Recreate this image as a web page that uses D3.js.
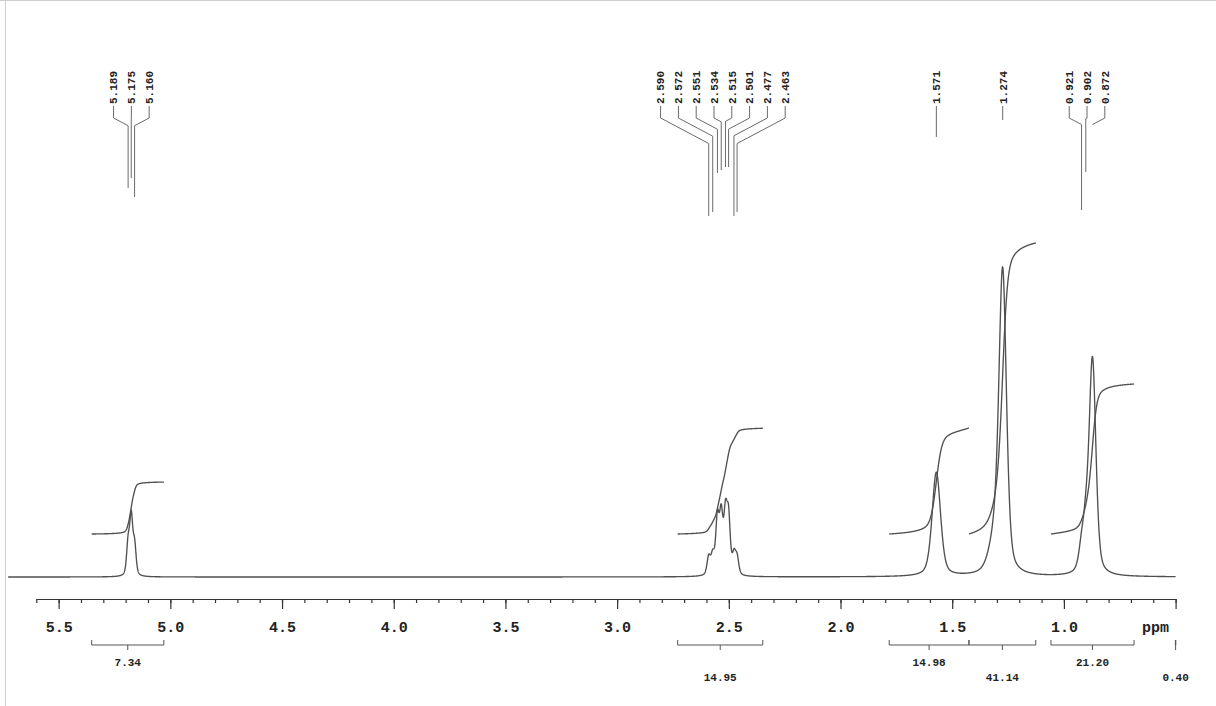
<!DOCTYPE html>
<html>
<head>
<meta charset="utf-8">
<script src="https://cdn.jsdelivr.net/npm/d3@7"></script>
<style>
  html, body { margin: 0; padding: 0; background: #fff; }
  svg { display: block; }
  text { font-family: "Liberation Mono", "DejaVu Sans Mono", monospace; font-weight: bold; fill: #222; }
</style>
</head>
<body>
<svg id="chart" width="1216" height="706"></svg>
<script>
// ---- 1H NMR spectrum data -------------------------------------------------

// Resolved lines: chemical shift (ppm), height (a.u.), line width (ppm)
const peakShifts  = [5.189, 5.175, 5.160,
                     2.590, 2.572, 2.551, 2.534, 2.515, 2.501, 2.477, 2.463,
                     1.571, 1.274, 0.921, 0.902, 0.872];
const peakHeights = [32, 57, 30,
                     18, 19, 55, 57, 57, 54, 19, 17,
                     104, 298, 22, 35, 215];
const peakWidths  = [0.016, 0.016, 0.016,
                     0.018, 0.018, 0.018, 0.018, 0.018, 0.018, 0.018, 0.018,
                     0.045, 0.040, 0.030, 0.030, 0.036];

// Unlabelled broad component under the 1.27 ppm band
const shoulderShifts  = [1.31];
const shoulderHeights = [30];
const shoulderWidths  = [0.06];

// Integral regions (ppm, high to low) and their printed values
const integralFrom   = [5.352, 2.729, 1.782, 1.425, 1.058, 0.501];
const integralTo     = [5.029, 2.348, 1.425, 1.126, 0.686, 0.499];
const integralValues = [7.34, 14.95, 14.98, 41.14, 21.20, 0.40];

// Axis ticks
const majorTicks = [5.5, 5.0, 4.5, 4.0, 3.5, 3.0, 2.5, 2.0, 1.5, 1.0, 0.5];
const tickLabels = ["5.5", "5.0", "4.5", "4.0", "3.5", "3.0", "2.5", "2.0", "1.5", "1.0", ""];
const axisUnit   = "ppm";

// ---- layout ----------------------------------------------------------------
const W = 1216, H = 706;
const baseY = 577;          // spectrum baseline
const axisY = 599;          // ppm axis line
const integralBaseY = 534;  // integral traces start here
const spectrumStart = 5.726, spectrumEnd = 0.5;
// where each leader line stops (one per labelled line)
const leaderEnds = [188, 178, 197,
                    216, 212, 173, 170, 167, 167, 216, 212,
                    137, 120, 210, 172, 124];

const svg = d3.select("#chart");

// faint frame of the page
svg.append("line").attr("x1", 0).attr("x2", W).attr("y1", 0.5).attr("y2", 0.5)
  .attr("stroke", "#cfcfcf").attr("stroke-width", 1);
svg.append("line").attr("x1", 5.5).attr("x2", 5.5).attr("y1", 0).attr("y2", H)
  .attr("stroke", "#cfcfcf").attr("stroke-width", 1);

const x = d3.scaleLinear().domain([5.6, 0.5]).range([36.3, 1175.6]);
const y = d3.scaleLinear().domain([0, 320]).range([baseY, baseY - 320]);
const yInt = d3.scaleLinear().domain([0, 40]).range([integralBaseY, integralBaseY - 283]);

// pseudo-Voigt line shape
const eta = 0.42;
function shape(d, w) {
  const r = d / w;
  return eta / (1 + 4 * r * r) + (1 - eta) * Math.exp(-4 * Math.LN2 * r * r);
}
function intensity(ppm) {
  let s = 0;
  for (let i = 0; i < peakShifts.length; i++)
    s += peakHeights[i] * shape(ppm - peakShifts[i], peakWidths[i]);
  for (let i = 0; i < shoulderShifts.length; i++)
    s += shoulderHeights[i] * shape(ppm - shoulderShifts[i], shoulderWidths[i]);
  return s;
}

const step = 0.0004;
const ppmGrid = d3.range(spectrumStart, spectrumEnd - step / 2, -step);
const spectrum = ppmGrid.map(p => [p, intensity(p)]);

const line = d3.line().x(d => x(d[0])).y(d => y(d[1]));
const traceColor = "#505050", traceWidth = 1.35;

svg.append("path")
  .datum(spectrum)
  .attr("d", line)
  .attr("fill", "none")
  .attr("stroke", traceColor)
  .attr("stroke-width", traceWidth)
  .attr("stroke-linejoin", "round");

// ---- integral traces ------------------------------------------------------
integralValues.forEach((val, i) => {
  const a = integralFrom[i], b = integralTo[i];
  if (a - b < 0.05) return;
  const pts = d3.range(a, b - step / 2, -step);
  let acc = 0;
  const cum = pts.map(p => { acc += intensity(p); return acc; });
  const total = cum[cum.length - 1];
  const trace = pts.map((p, j) => [x(p), yInt(val * cum[j] / total)]);
  svg.append("path")
    .datum(trace)
    .attr("d", d3.line())
    .attr("fill", "none")
    .attr("stroke", traceColor)
    .attr("stroke-width", traceWidth);
});

// ---- ppm axis -------------------------------------------------------------
const minorTicks = d3.range(56, 4, -1).map(v => v / 10);
const minorAxis = d3.axisBottom(x).tickValues(minorTicks).tickSize(4).tickSizeOuter(0).tickFormat("");
const majorAxis = d3.axisBottom(x).tickValues(majorTicks).tickSize(10).tickSizeOuter(0)
  .tickPadding(12).tickFormat((d, i) => tickLabels[i]);

const gMinor = svg.append("g").attr("transform", `translate(0,${axisY})`).call(minorAxis);
const gMajor = svg.append("g").attr("transform", `translate(0,${axisY})`).call(majorAxis);
[gMinor, gMajor].forEach(g => {
  g.selectAll("path.domain").attr("stroke", "#333").attr("stroke-width", 1.2);
  g.selectAll(".tick line").attr("stroke", "#333").attr("stroke-width", 1.2);
});
gMajor.selectAll(".tick text")
  .attr("font-family", "Liberation Mono, DejaVu Sans Mono, monospace")
  .attr("font-weight", "bold")
  .attr("font-size", 15)
  .attr("fill", "#222");

svg.append("text")
  .attr("x", x(0.59)).attr("y", axisY + 33)
  .attr("text-anchor", "middle")
  .attr("font-size", 15)
  .text(axisUnit);

// ---- integral brackets ------------------------------------------------------
const brY = 645;
const gInt = svg.append("g").attr("stroke", "#555").attr("stroke-width", 1).attr("fill", "none");
integralValues.forEach((val, i) => {
  const x1 = x(integralFrom[i]), x2 = x(integralTo[i]);
  const xm = (x1 + x2) / 2;
  gInt.append("path")
    .attr("d", `M${x1},${brY - 5}V${brY}H${x2}V${brY - 5}M${xm},${brY}V${brY + 5}`);
  svg.append("text")
    .attr("x", xm)
    .attr("y", i % 2 === 0 ? 662 : 677)
    .attr("dy", "0.35em")
    .attr("text-anchor", "middle")
    .attr("font-size", 11)
    .text(val.toFixed(2));
});

// ---- peak labels with leader lines -----------------------------------------
// group lines that sit close together so their labels fan out
const groups = [];
peakShifts.forEach((p, i) => {
  const g = groups[groups.length - 1];
  if (g && Math.abs(peakShifts[g[g.length - 1]] - p) < 0.05) g.push(i);
  else groups.push([i]);
});
const labelGap = 17.8, labelBottom = 104, bendY = 118, slope = 0.53;
const gLead = svg.append("g").attr("stroke", "#6a6a6a").attr("stroke-width", 1).attr("fill", "none");
groups.forEach(g => {
  const cx = (x(peakShifts[g[0]]) + x(peakShifts[g[g.length - 1]])) / 2;
  g.forEach((idx, k) => {
    const lx = cx + (k - (g.length - 1) / 2) * labelGap;
    const px = x(peakShifts[idx]);
    const y2 = bendY + slope * Math.abs(lx - px);
    const yEnd = Math.max(leaderEnds[idx], y2);
    gLead.append("path")
      .attr("d", `M${lx},${labelBottom + 2}V${bendY}L${px},${y2}V${yEnd}`);
    svg.append("text")
      .attr("transform", `translate(${lx},${labelBottom}) rotate(-90)`)
      .attr("dy", "0.35em")
      .attr("text-anchor", "start")
      .attr("font-size", 11)
      .text(peakShifts[idx].toFixed(3));
  });
});
</script>
</body>
</html>
